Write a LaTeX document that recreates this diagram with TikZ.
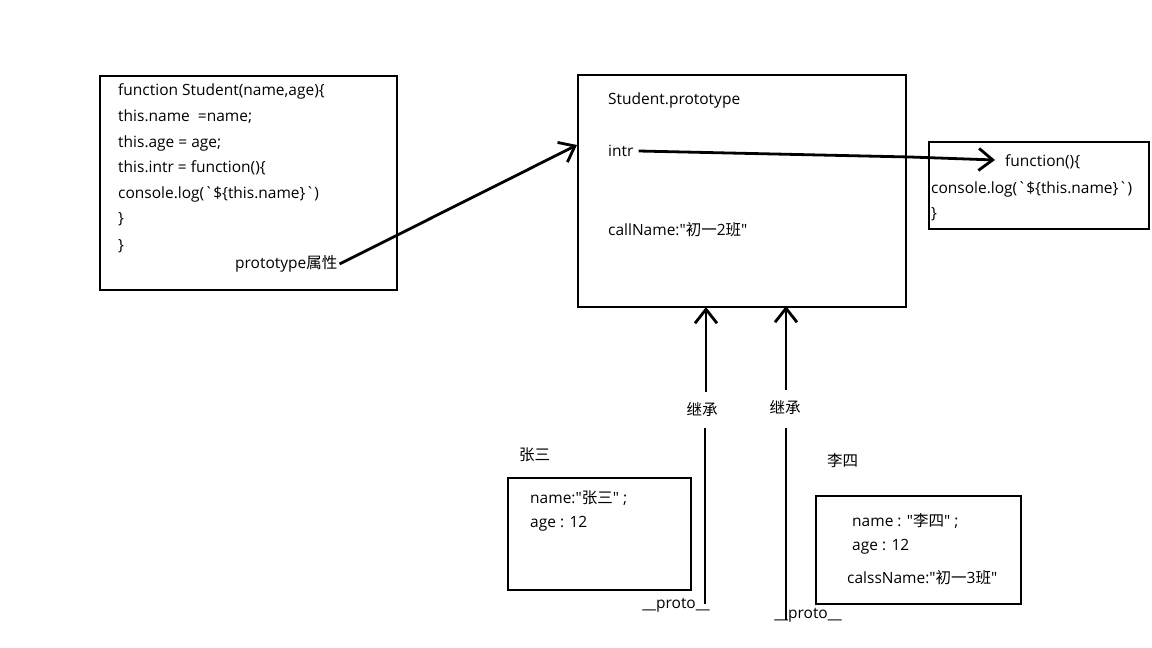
\documentclass[tikz,border=0pt]{standalone}
\usepackage{fontspec}
\setmainfont{Open Sans}[Ligatures=TeXOff]
\newfontfamily\cjk{Noto Sans CJK SC}[Ligatures=TeXOff]
\usetikzlibrary{arrows.meta}
\begin{document}
\begin{tikzpicture}[x=1pt,y=-1pt,
  box/.style={draw, line width=2.8pt, inner sep=0pt, outer sep=0pt},
  txt/.style={anchor=west, inner sep=0pt, font=\fontsize{15.5}{18}\selectfont},
  ctxt/.style={inner sep=0pt, font=\fontsize{15.5}{18}\selectfont},
  arr/.style={line width=2.8pt, -{Straight Barb[length=14pt,width=22pt,line width=2.8pt]}},
  plain/.style={line width=2.8pt}]
\fill[white] (0,0) rectangle (1152,648);
\useasboundingbox (0,0) rectangle (1152,648);
% boxes
\node[box, anchor=north west, minimum width=297pt, minimum height=214pt] (ctor) at (100,76) {};
\node[box, anchor=north west, minimum width=328pt, minimum height=232pt] (proto) at (578,75) {};
\node[box, anchor=north west, minimum width=220pt, minimum height=87pt] (fn) at (929,142) {};
\node[box, anchor=north west, minimum width=183pt, minimum height=112pt] (zs) at (508,478) {};
\node[box, anchor=north west, minimum width=205pt, minimum height=108pt] (ls) at (816,496) {};
% constructor text
\node[txt] (c1) at (118,91) {function Student(name,age)\{};
\node[txt] (c2) at (118,117) {this.name\ \ =name;};
\node[txt] (c3) at (118,143) {this.age = age;};
\node[txt] (c4) at (118,168) {this.intr = function()\{};
\node[txt] (c5) at (118,194) {console.log(\textasciigrave\$\{this.name\}\textasciigrave)};
\node[txt] (c6) at (118,219) {\}};
\node[txt] (c7) at (118,246) {\}};
\node[txt] (pa) at (235,264) {prototype{\cjk 属性}};
% prototype text
\node[txt] (p1) at (608,100) {Student.prototype};
\node[txt] (p2) at (608,151) {intr};
\node[txt] (p3) at (608,230) {callName:"{\cjk 初一}2{\cjk 班}"};
% function text
\node[txt] (f1) at (1005,162) {function()\{};
\node[txt] (f2) at (931,189) {console.log(\textasciigrave\$\{this.name\}\textasciigrave)};
\node[txt] (f3) at (931,214) {\}};
% instances
\node[txt] (zsn) at (519,455) {\cjk 张三};
\node[txt] (lsn) at (827,461) {\cjk 李四};
\node[txt] (z1) at (530,498) {name:"{\cjk 张三}" ;};
\node[txt] (z2) at (530,524) {age : 12};
\node[txt] (l1) at (852,521) {name : "{\cjk 李四}" ;};
\node[txt] (l2) at (852,547) {age : 12};
\node[txt] (l3) at (847,578) {calssName:"{\cjk 初一}3{\cjk 班}"};
% inheritance labels
\node[ctxt] (i1) at (702,410) {\cjk 继承};
\node[ctxt] (i2) at (785,408) {\cjk 继承};
\node[ctxt] (pr1) at (676,605) {\_\_proto\_\_};
\node[ctxt] (pr2) at (808,615) {\_\_proto\_\_};
\coordinate (a1top) at (706,307);
\coordinate (a2top) at (786,306);
\coordinate (a1bot) at (705,604);
\coordinate (a2bot) at (786,620);
\coordinate (ptip) at (577,145);
\coordinate (ftip) at (995,160);
\coordinate (bend) at (910,157);
% connectors
\draw[arr] ([xshift=2pt]pa.east) -- (ptip);
\draw[arr] ([xshift=5pt]p2.east) -- (bend) -- (ftip);
\draw[arr] (706,392) -- (a1top);
\draw[plain] (705,428) -- (a1bot);
\draw[arr] (786,390) -- (a2top);
\draw[plain] (786,428) -- (a2bot);
\end{tikzpicture}
\end{document}
